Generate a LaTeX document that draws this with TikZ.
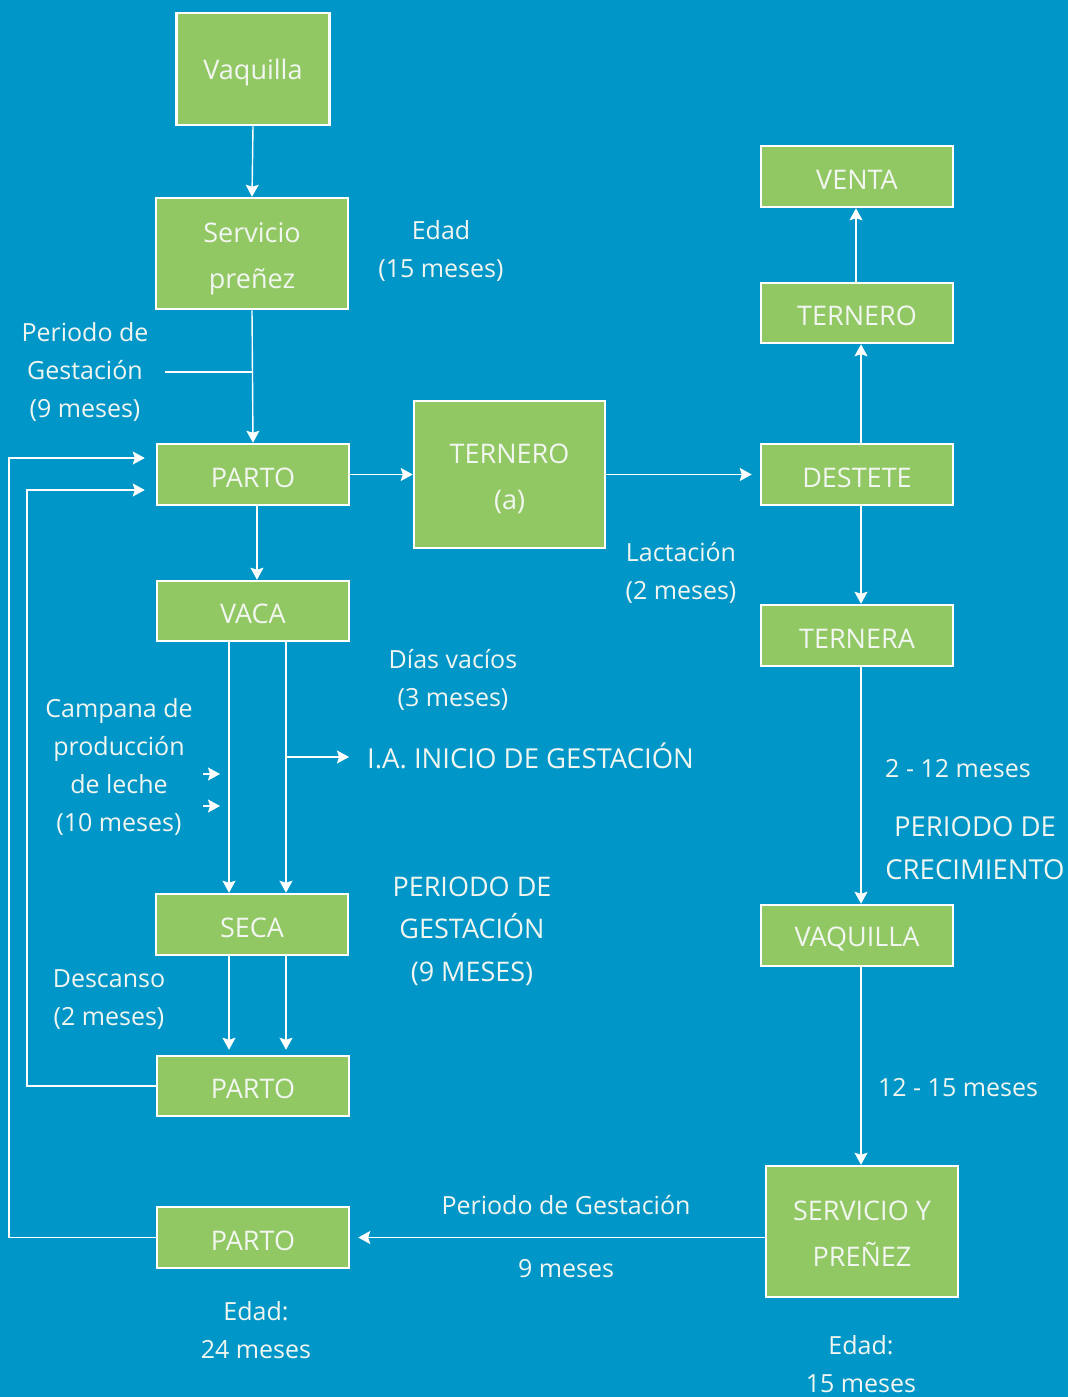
\documentclass[tikz,border=0pt]{standalone}
\usepackage{fontspec}
\setmainfont{Open Sans}
\usetikzlibrary{arrows.meta,calc}
\definecolor{bg}{RGB}{0,150,200}
\definecolor{gr}{RGB}{146,200,100}
\definecolor{tx}{RGB}{242,246,240}
\newcommand{\dnx}[1]{\raisebox{-3pt}[\height][\depth]{#1}}
\newcommand{\dnm}[1]{\dnx{\begin{tabular}{@{}c@{}}#1\end{tabular}}}
\begin{document}
\begin{tikzpicture}[x=1pt,y=-1pt,
  box/.style={draw=white, line width=2.5pt, fill=gr, text=tx, font=\fontsize{27}{46}\selectfont, align=center, inner sep=0pt},
  lab/.style={text=tx, font=\fontsize{25}{38}\selectfont, align=center, inner sep=0pt},
  conn/.style={draw=white, line width=1.4pt, -{Stealth[length=12pt,width=13pt,inset=2pt]}},
  plain/.style={draw=white, line width=1.4pt}]
\fill[bg] (0,0) rectangle (1068,1397);
\useasboundingbox (0,0) rectangle (1068,1397);
% boxes
\node[box, minimum width=153, minimum height=112] (vaq) at (253,69) {\dnx{Vaquilla}};
\node[box, minimum width=192, minimum height=111] (serv) at (252,253.5) {\dnm{Servicio\\preñez}};
\node[box, minimum width=192, minimum height=61] (p1) at (253,474.5) {\dnx{PARTO}};
\node[box, minimum width=191, minimum height=147] (tern) at (509.5,474.5) {\dnm{TERNERO\\(a)}};
\node[box, minimum width=192, minimum height=60] (vaca) at (253,611) {\dnx{VACA}};
\node[box, minimum width=192, minimum height=61] (seca) at (252,924.5) {\dnx{SECA}};
\node[box, minimum width=192, minimum height=60] (p2) at (253,1086) {\dnx{PARTO}};
\node[box, minimum width=192, minimum height=61] (p3) at (253,1237.5) {\dnx{PARTO}};
\node[box, minimum width=192, minimum height=61] (venta) at (857,176.5) {\dnx{VENTA}};
\node[box, minimum width=192, minimum height=60] (tern2) at (857,313) {\dnx{TERNERO}};
\node[box, minimum width=192, minimum height=61] (dest) at (857,474.5) {\dnx{DESTETE}};
\node[box, minimum width=192, minimum height=61] (terna) at (857,635.5) {\dnx{TERNERA}};
\node[box, minimum width=192, minimum height=61] (vaq2) at (857,935.5) {\dnx{VAQUILLA}};
\node[box, minimum width=192, minimum height=131] (sp) at (862,1231.5) {\dnm{SERVICIO Y\\PREÑEZ}};
% labels
\node[lab] (edad15) at (441,251) {Edad\\(15 meses)};
\node[lab] (pgest) at (85,372) {Periodo de\\Gestación\\(9 meses)};
\node[lab] (lact) at (681,573) {Lactación\\(2 meses)};
\node[lab] (dias) at (453,680) {Días vacíos\\(3 meses)};
\node[lab, anchor=west, font=\fontsize{27.5}{38}\selectfont] (ia) at (367,756) {I.A. INICIO DE GESTACIÓN};
\node[lab] (camp) at (119,767) {Campana de\\producción\\de leche\\(10 meses)};
\node[lab, font=\fontsize{27}{42.5}\selectfont] (pgest2) at (472,931) {PERIODO DE\\GESTACIÓN\\(9 MESES)};
\node[lab] (desc) at (109,1000) {Descanso\\(2 meses)};
\node[lab] (edad24) at (256,1330) {Edad:\\24 meses};
\node[lab] (pg3) at (566,1205) {Periodo de Gestación};
\node[lab] (m9) at (566,1269) {9 meses};
\node[lab] (edad15b) at (861,1364) {Edad:\\15 meses};
\node[lab] (m212) at (958,769) {2 - 12 meses};
\node[lab, font=\fontsize{27.5}{43}\selectfont] (pcrec) at (975,848) {PERIODO DE\\CRECIMIENTO};
\node[lab] (m1215) at (958,1088) {12 - 15 meses};
% coordinates
\coordinate (gj) at (253,372);
\coordinate (xa) at (229,0);
\coordinate (xb) at (286,0);
\coordinate (iaj) at (286,757);
\coordinate (l2) at (27,490);
\coordinate (l3) at (9,458);
\coordinate (s1a) at (203,774);
\coordinate (s1b) at (220,774);
\coordinate (s2a) at (203,806);
\coordinate (s2b) at (220,806);
% connectors
\draw[conn] (vaq.south) -- (serv.north);
\draw[conn] (serv.south) -- (p1.north);
\draw[plain] (pgest.east |- gj) ++(16,0) -- (gj);
\draw[conn] (p1.east) -- (tern.west);
\draw[conn, shorten >=8pt] (tern.east) -- (dest.west);
\draw[conn] (p1.south -| 257,0) -- (vaca.north -| 257,0);
\draw[conn] (vaca.south -| xa) -- (seca.north -| xa);
\draw[conn] (vaca.south -| xb) -- (seca.north -| xb);
\draw[conn, shorten >=18pt] (iaj) -- (ia.west |- iaj);
\draw[conn] (s1a) -- (s1b);
\draw[conn] (s2a) -- (s2b);
\draw[conn, shorten >=5pt] (seca.south -| xa) -- (p2.north -| xa);
\draw[conn, shorten >=5pt] (seca.south -| xb) -- (p2.north -| xb);
\draw[conn, shorten >=11pt] (p2.west) -| (l2) -- (l2 -| p1.west);
\draw[conn, shorten >=11pt] (p3.west) -| (l3) -- (l3 -| p1.west);
\draw[conn] (dest.north -| 861,0) -- (tern2.south -| 861,0);
\draw[conn] (tern2.north -| 856,0) -- (venta.south -| 856,0);
\draw[conn] (dest.south -| 861,0) -- (terna.north -| 861,0);
\draw[conn] (terna.south -| 861,0) -- (vaq2.north -| 861,0);
\draw[conn] (vaq2.south -| 861,0) -- (sp.north -| 861,0);
\draw[conn, shorten >=8pt] (sp.west |- p3.east) -- (p3.east);
\end{tikzpicture}
\end{document}
